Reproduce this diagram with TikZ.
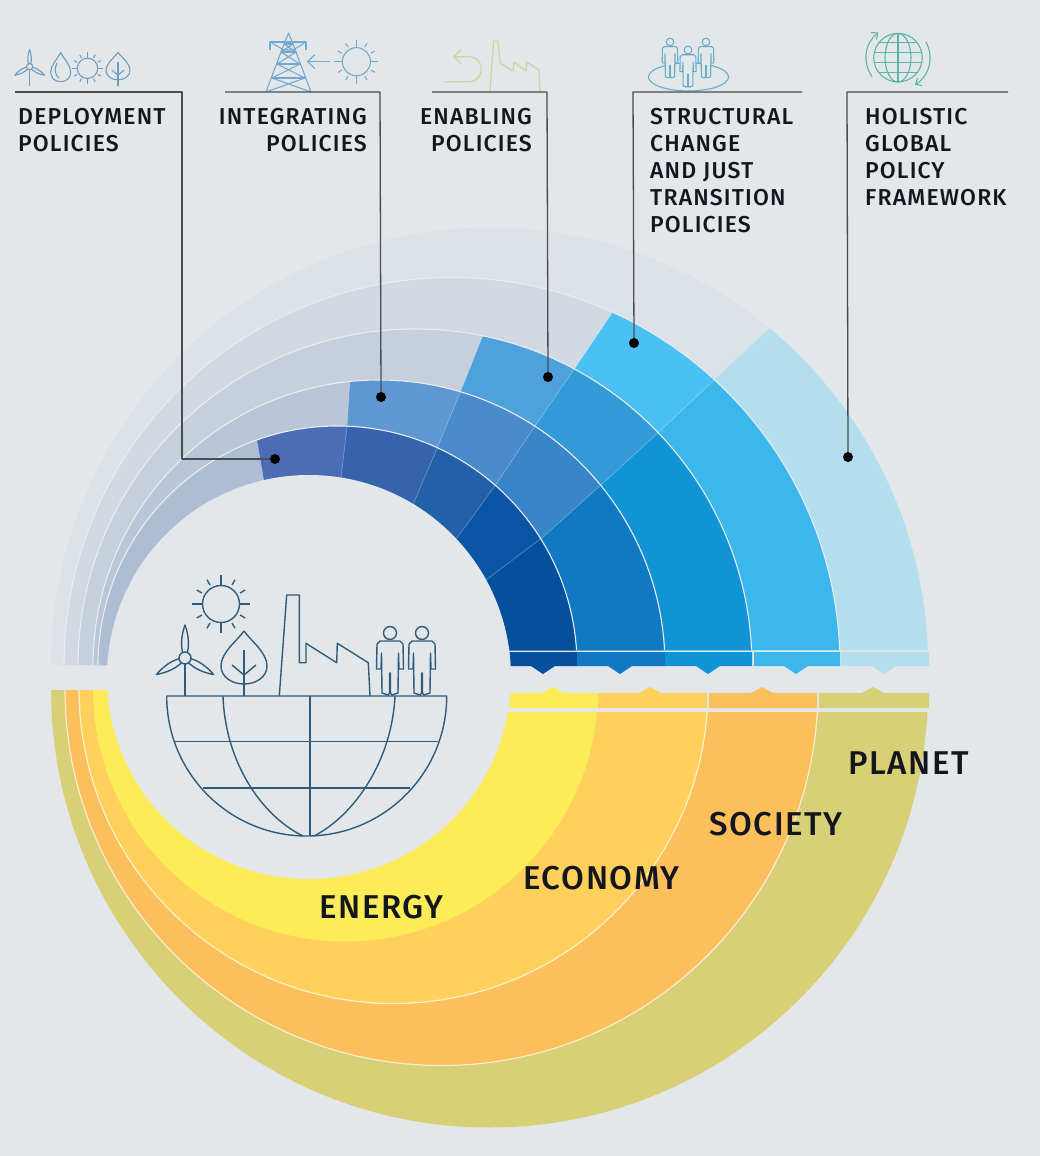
\documentclass[tikz,border=0pt]{standalone}
\usepackage{fontspec}
\setmainfont{Fira Sans}
\newfontfamily\bigf[LetterSpace=5]{Fira Sans Medium}
\newfontfamily\labf[LetterSpace=5]{Fira Sans Medium}
\usetikzlibrary{arrows.meta}
\definecolor{bgc}{HTML}{E3E7EA}
\definecolor{sepc}{HTML}{E9EDF0}
\definecolor{iconmain}{HTML}{2F5C7C}
\definecolor{iconA}{HTML}{6F9DBF}
\definecolor{iconB}{HTML}{74A9CF}
\definecolor{iconC}{HTML}{C8D8A2}
\definecolor{iconD}{HTML}{66ADCB}
\definecolor{iconE}{HTML}{5CB5A3}
\definecolor{leaderc}{HTML}{4A4D50}
\definecolor{txtc}{HTML}{14161E}
% top rings
\definecolor{g5}{HTML}{DDE1E8}\definecolor{g4}{HTML}{D2D9E2}\definecolor{g3}{HTML}{C5D0DC}\definecolor{g2}{HTML}{B9C6D7}\definecolor{g1}{HTML}{ADBDD3}
\definecolor{aa}{HTML}{4A6DB5}\definecolor{ab}{HTML}{3563AC}\definecolor{ac}{HTML}{2260A8}\definecolor{ad}{HTML}{0A55A5}\definecolor{ae}{HTML}{05509D}
\definecolor{bb}{HTML}{5E97D3}\definecolor{bc}{HTML}{4A8CCB}\definecolor{bd}{HTML}{3A84C8}\definecolor{be}{HTML}{1079C3}
\definecolor{cc}{HTML}{4FA1DD}\definecolor{cd}{HTML}{319AD7}\definecolor{ce}{HTML}{1194D5}
\definecolor{dd}{HTML}{4BC0F2}\definecolor{de}{HTML}{3CB7EC}
\definecolor{ee}{HTML}{B3DEEE}
\definecolor{ye}{HTML}{FCEC58}\definecolor{go}{HTML}{FFD15C}\definecolor{or}{HTML}{FBBF5C}\definecolor{ol}{HTML}{D8D076}
\newcommand{\regD}{(270,660)--(270,520)--(263,476)--(257,441)--(252,400)--(1000,400)--(1000,660)--cycle}
\newcommand{\regA}{(335,660)--(335,520)--(341,478)--(347,427)--(350,378)--(352,340)--(1000,340)--(1000,660)--cycle}
\newcommand{\regB}{(395,660)--(395,550)--(415,500)--(438,446)--(462,388)--(483,335)--(500,290)--(1000,290)--(1000,660)--cycle}
\newcommand{\regC}{(420,660)--(420,590)--(457,538)--(497,483)--(537,423)--(575,368)--(612,313)--(645,265)--(1000,265)--(1000,660)--cycle}
\newcommand{\regE}{(440,660)--(440,620)--(486,580)--(543,537)--(601,485)--(660,431)--(714,380)--(768,330)--(830,270)--(1000,100)--(1000,660)--cycle}
\newcommand{\topclip}{\clip (0,0) rectangle (309,665) (309,0) rectangle (1040,650);}
\newcommand{\botclip}{\clip (0,690) rectangle (309,1156) (309,712) rectangle (1040,1156);}
\tikzset{
 every pic/.style={yscale=-1},
 cell/.style={fill=#1,draw=white,draw opacity=.35,line width=.6pt},
 ringsep/.style={draw=sepc,line width=1.1pt},
 leader/.style={draw=leaderc,line width=1.3pt},
 dotn/.style={circle,fill=black,inner sep=0pt,minimum size=10pt},
 lab/.style={inner sep=0pt,text=txtc,font=\labf\fontsize{23}{27}\selectfont},
 big/.style={inner sep=0pt,text=txtc,font=\bigf\fontsize{33}{36}\selectfont},
 sun/.pic={
  \draw (0,0) circle (18.5);
  \foreach \a in {0,90,180,270}{\draw (\a:18.5) -- (\a:29);}
  \foreach \a in {30,60,120,150,210,240,300,330}{\draw (\a:22) -- (\a:28);}
 },
 turbine/.pic={
  \foreach \r in {0,120,240}{\draw[rotate=\r] (0,0) .. controls (-6,-10) and (-3,-25) .. (0,-33) .. controls (3,-25) and (6,-10) .. (0,0);}
  \draw (0,6) -- (0,38);
  \draw[fill=bgc] (0,0) circle (6);
 },
 treeicon/.pic={
  \draw (0,0) .. controls (-6,9) and (-23,21) .. (-23,35) .. controls (-23,46) and (-12,53) .. (0,53) .. controls (12,53) and (23,46) .. (23,35) .. controls (23,21) and (6,9) .. (0,0);
  \draw (0,19) -- (0,65);
  \draw (-12,34) -- (0,44) -- (12,34);
 },
 person/.pic={
  \draw[fill=bgc] (0,0) circle (6.5);
  \draw[fill=bgc] (0,8) -- (10,8) -- (13,11) -- (13.5,36) -- (9,36) -- (8.5,20) -- (8,60) -- (2,62) -- (0.5,60) -- (0.5,40) -- (-0.5,40) -- (-0.5,60) -- (-2,62) -- (-8,60) -- (-8.5,20) -- (-9,36) -- (-13.5,36) -- (-13,11) -- (-10,8) -- cycle;
 }
}
\begin{document}
\begin{tikzpicture}[x=1pt,y=1pt,yscale=-1,line join=round]
\useasboundingbox (0,0) rectangle (1040,1156);
\fill[bgc] (0,0) rectangle (1040,1156);

% lower half rings
\begin{scope}
 \botclip
 \fill[ol] (489.5,689) circle (438.5);
 \fill[or] (441.5,689) circle (376.5);
 \draw[white!70!or,line width=1.2pt] (441.5,689) circle (376.5);
 \fill[go] (393.5,689) circle (314.5);
 \draw[white!70!go,line width=1.2pt] (393.5,689) circle (314.5);
 \fill[ye] (345.5,689) circle (252.5);
\end{scope}

% upper half rings
\begin{scope}
 \topclip
 \begin{scope}\clip (489.5,666) circle (438.5);
  \fill[g5] (0,0) rectangle (1040,700);
  \fill[ee] \regE;
 \end{scope}
 \begin{scope}\clip (452,665.5) circle (388);
  \fill[g4] (0,0) rectangle (1040,700);
  \path[cell=dd] \regC; \path[cell=de] \regE;
 \end{scope}
 \draw[ringsep] (452,665.5) circle (388);
 \begin{scope}\clip (415,666) circle (337);
  \fill[g3] (0,0) rectangle (1040,700);
  \path[cell=cc] \regB; \path[cell=cd] \regC; \path[cell=ce] \regE;
 \end{scope}
 \draw[ringsep] (415,666) circle (337);
 \begin{scope}\clip (379,666) circle (286);
  \fill[g2] (0,0) rectangle (1040,700);
  \path[cell=bb] \regA; \path[cell=bc] \regB; \path[cell=bd] \regC; \path[cell=be] \regE;
 \end{scope}
 \draw[ringsep] (379,666) circle (286);
 \begin{scope}\clip (337.5,665.5) circle (239.5);
  \fill[g1] (0,0) rectangle (1040,700);
  \path[cell=aa] \regD; \path[cell=ab] \regA; \path[cell=ac] \regB; \path[cell=ad] \regC; \path[cell=ae] \regE;
 \end{scope}
 \draw[ringsep] (337.5,665.5) circle (239.5);
\end{scope}

% pointer strips, blue
\fill[ae] (505,652) rectangle (577,666) (531,666) -- (543,674) -- (555,666) -- cycle;
\fill[be] (577,652) rectangle (665,666) (608,666) -- (620,674) -- (632,666) -- cycle;
\fill[ce] (665,652) rectangle (752,666) (696,666) -- (708,674) -- (720,666) -- cycle;
\fill[de] (754,652) rectangle (840,666) (784,666) -- (796,674) -- (808,666) -- cycle;
\fill[ee] (841,652) rectangle (929,666) (872,666) -- (884,674) -- (896,666) -- cycle;
% pointer strips, yellow
\fill[ye] (505,693) rectangle (598,708) (542,693) -- (553,687) -- (564,693) -- cycle;
\fill[go] (598,693) rectangle (707,708) (639,693) -- (650,687) -- (661,693) -- cycle;
\fill[or] (709,693) rectangle (817,708) (751,693) -- (762,687) -- (773,693) -- cycle;
\fill[ol] (819,693) rectangle (929,708) (862,693) -- (873,687) -- (884,693) -- cycle;

% centre
\fill[bgc] (309,677) circle (202);

% main icon
\begin{scope}[color=iconmain,line width=1.4pt]
 \draw (166.7,696) -- (446.7,696) arc[start angle=0,end angle=180,radius=140];
 \draw (310,696) -- (310,836);
 \draw (175,741.7) -- (438,741.7);
 \draw (203,788) -- (410,788);
 \draw (223,696) .. controls (225,760) and (260,815) .. (303,836);
 \draw (395,696) .. controls (392,760) and (355,815) .. (314,836);
 \draw (279.3,696) -- (286.7,595) -- (299.3,595) -- (299.3,662.7) -- (306,662.7) -- (306,643.3) -- (336.7,662.7) -- (337.3,643.3) -- (368.3,662.7) -- (370,696);
 \pic at (221,604) {sun};
 \pic at (185,658) {turbine};
 \pic at (244,631) {treeicon};
 \pic at (390,633) {person};
 \pic at (422,633) {person};
\end{scope}

% header icons
\begin{scope}[color=iconA,line width=1.1pt]
 \pic[scale=.52] at (29.6,66.7) {turbine};
 \draw (60.7,52.3) .. controls (57,60) and (50.7,65) .. (50.7,72) .. controls (50.7,78) and (55,81.7) .. (60.7,81.7) .. controls (66.4,81.7) and (70.7,78) .. (70.7,72) .. controls (70.7,65) and (64.4,60) .. (60.7,52.3);
 \draw (57,63) .. controls (54,70) and (55,75) .. (59,78);
 \pic[scale=.55] at (87.5,68.3) {sun};
 \pic[scale=.52] at (118,52.3) {treeicon};
\end{scope}
\begin{scope}[color=iconB,line width=1.1pt]
 \draw (266,92) -- (284,44) -- (288.5,33) -- (293,44) -- (311,92);
 \draw (270,50) -- (270,42) -- (306,42) -- (306,50);
 \draw (270,42) -- (284,50) -- (293,50) -- (306,42);
 \draw (284,44) -- (293,44) (281,52) -- (296,52) (277,64) -- (300,64) (272,78) -- (305,78);
 \draw (284,44) -- (296,52) -- (281,52) -- (293,44);
 \draw (281,52) -- (300,64) (296,52) -- (277,64);
 \draw (277,64) -- (305,78) (300,64) -- (272,78);
 \draw (272,78) -- (311,92) (305,78) -- (266,92);
 \draw[-{Straight Barb[length=7pt,width=14pt]}] (330,61.7) -- (307,61.7);
 \pic[scale=.76] at (356.4,61.7) {sun};
\end{scope}
\begin{scope}[color=iconC,line width=1.3pt]
 \draw[-{Straight Barb[length=7pt,width=14pt]}] (444.6,81.7) -- (468,81.7) .. controls (486,81.7) and (486,56.7) .. (468,56.7) -- (453,56.7);
 \draw (490,92) -- (493.6,41) -- (498,41) -- (500,63) -- (513,71) -- (514,62) -- (526,71) -- (527,62) -- (539,70) -- (540,92);
\end{scope}
\begin{scope}[color=iconD,line width=1.1pt]
 \draw (688.5,77) ellipse [x radius=40,y radius=14];
 \pic[scale=.58] at (670,42) {person};
 \pic[scale=.58] at (706,42) {person};
 \pic[scale=.6] at (688,50) {person};
\end{scope}
\begin{scope}[color=iconE,line width=1.1pt]
 \draw (898,57.7) circle (24.3);
 \begin{scope}
  \clip (898,57.7) circle (24.3);
  \draw (870,42.7) -- (926,42.7) (870,52.7) -- (926,52.7) (870,62.7) -- (926,62.7) (870,72.7) -- (926,72.7);
 \end{scope}
 \draw (898,33.4) -- (898,82);
 \draw (898,57.7) ellipse [x radius=13,y radius=24.3];
 \draw[-{Straight Barb[length=5pt,width=9pt]}] (898,57.7) ++(144:32) arc[start angle=144,end angle=232,radius=32];
 \draw[-{Straight Barb[length=5pt,width=9pt]}] (898,57.7) ++(-30:32) arc[start angle=-30,end angle=58,radius=32];
\end{scope}

% dots
\node[dotn] (dot1) at (275,459) {};
\node[dotn] (dot2) at (381,397) {};
\node[dotn] (dot3) at (548,377) {};
\node[dotn] (dot4) at (634,343) {};
\node[dotn] (dot5) at (848,457) {};
% leaders
\coordinate (s1) at (15,92);  \coordinate (c1) at (182,92);
\coordinate (s2) at (225,92); \coordinate (c2) at (380,92);
\coordinate (s3) at (432,92); \coordinate (c3) at (547,92);
\coordinate (s4) at (802,92); \coordinate (c4) at (633,92);
\coordinate (s5) at (1008,92);\coordinate (c5) at (847,92);
\draw[leader] (s1) -- (c1) -- (c1 |- dot1) -- (dot1);
\draw[leader] (s2) -- (c2) -- (dot2);
\draw[leader] (s3) -- (c3) -- (dot3);
\draw[leader] (s4) -- (c4) -- (dot4);
\draw[leader] (s5) -- (c5) -- (dot5);

% labels
\node[lab,anchor=north west,align=left] (t1) at (18,108.5) {DEPLOYMENT\\POLICIES};
\node[lab,anchor=north east,align=right] (t2) at (367,108.5) {INTEGRATING\\POLICIES};
\node[lab,anchor=north east,align=right] (t3) at (532,108.5) {ENABLING\\POLICIES};
\node[lab,anchor=north west,align=left] (t4) at (650,108.5) {STRUCTURAL\\CHANGE\\AND JUST\\TRANSITION\\POLICIES};
\node[lab,anchor=north west,align=left] (t5) at (865,108.5) {HOLISTIC\\GLOBAL\\POLICY\\FRAMEWORK};
\node[big,anchor=base west] (planet) at (848,774) {PLANET};
\node[big,anchor=base west] (society) at (709,835) {SOCIETY};
\node[big,anchor=base west] (economy) at (523,889) {ECONOMY};
\node[big,anchor=base west] (energy) at (319,918) {ENERGY};
\end{tikzpicture}
\end{document}
